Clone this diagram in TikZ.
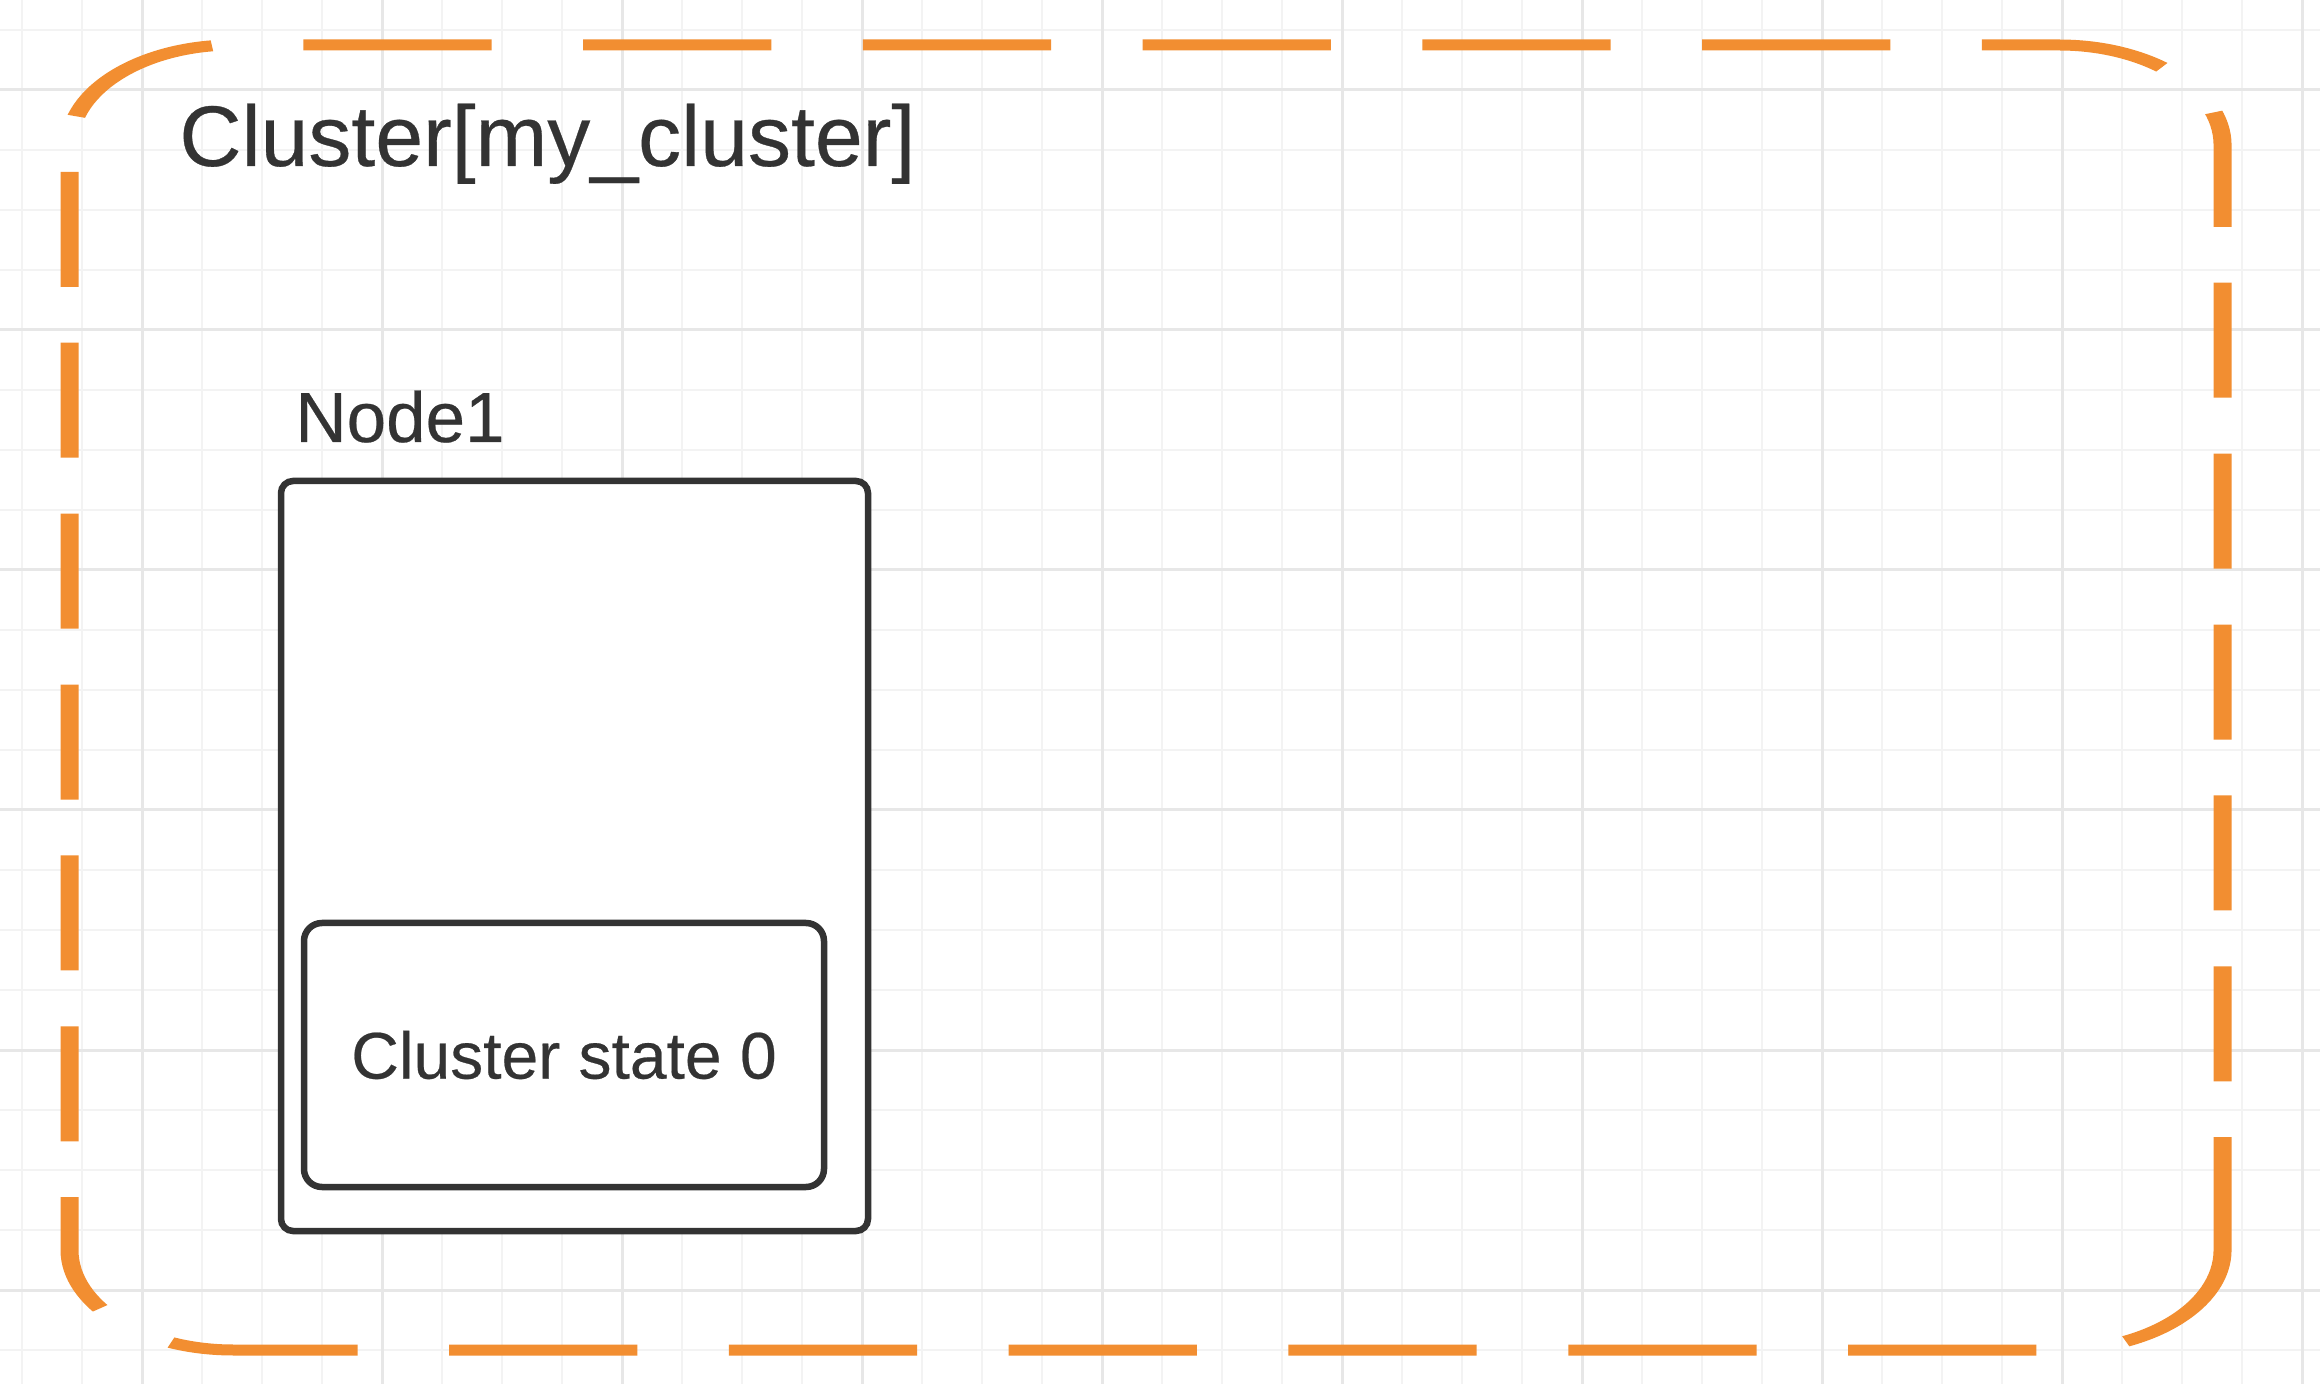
\documentclass[tikz,border=0pt]{standalone}
\usepackage{fontspec}
\setmainfont{Liberation Sans}[FakeBold=0.35]
\definecolor{gridminor}{RGB}{243,243,243}
\definecolor{gridmajor}{RGB}{231,231,231}
\definecolor{frameorange}{RGB}{242,142,49}
\definecolor{ink}{RGB}{51,51,51}
\begin{document}
\begin{tikzpicture}[x=0.5pt,y=-0.5pt,
  minorline/.style={draw=gridminor,line width=1pt},
  majorline/.style={draw=gridmajor,line width=1.5pt},
  frameline/.style={draw=frameorange,line width=5.5pt,dash pattern=on 57.5pt off 27.95pt},
  boxstyle/.style={draw=ink,fill=white,line width=3.25pt,inner sep=0pt,text=ink},
  labelstyle/.style={anchor=base west,inner sep=0pt,text=ink}]
\useasboundingbox (0,0) rectangle (2320,1384);
\fill[white] (0,0) rectangle (2320,1384);
% grid
\foreach \x in {22,82,...,2302} \draw[minorline] (\x,0) -- (\x,1384);
\foreach \y in {30,90,...,1350} \draw[minorline] (0,\y) -- (2320,\y);
\foreach \x in {142,382,...,2302} \draw[majorline] (\x,0) -- (\x,1384);
\foreach \y in {90,330,...,1290} \draw[majorline] (0,\y) -- (2320,\y);
% dashed cluster frame (horizontally stretched)
\begin{scope}[transform canvas={xscale=1.637}]
\draw[frameline] (1357.7,1250) arc[start angle=0,end angle=90,radius=100]
  -- (142.46,1350) arc[start angle=90,end angle=180,radius=100]
  -- (42.46,145) arc[start angle=180,end angle=270,radius=100]
  -- (1257.7,45) arc[start angle=270,end angle=360,radius=100]
  -- (1357.7,1250);
\end{scope}
% labels
\node[labelstyle,font=\fontsize{43}{50}\selectfont] (title) at (179,166) {Cluster[my\_cluster]};
\node[labelstyle,font=\fontsize{35.5}{42}\selectfont] (nodelabel) at (295,442) {Node1};
% node box
\node[boxstyle,rounded corners=6pt,minimum width=293.5pt,minimum height=375pt] (nodebox) at (574.5,856) {};
\node[boxstyle,rounded corners=9pt,minimum width=260pt,minimum height=132pt,font=\fontsize{33}{40}\selectfont] (state) at (564,1055) {Cluster state 0};
\end{tikzpicture}
\end{document}
